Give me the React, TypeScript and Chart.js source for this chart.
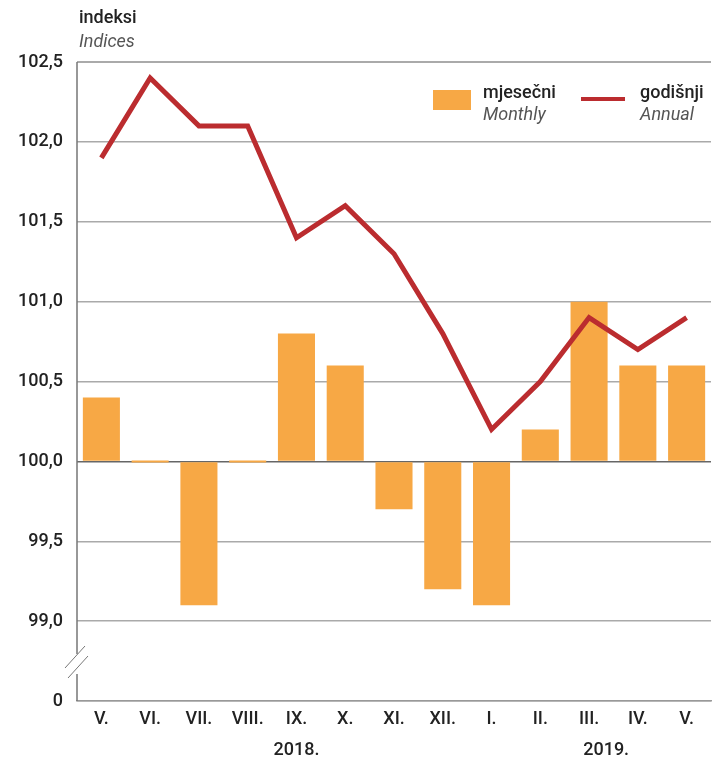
import React, { useEffect, useRef } from "react";
import { Chart, registerables } from "chart.js";
Chart.register(...registerables);

const categories = ["V.", "VI.", "VII.", "VIII.", "IX.", "X.", "XI.", "XII.", "I.", "II.", "III.", "IV.", "V."];
const monthly = [100.4, 100.0, 99.1, 100.0, 100.8, 100.6, 99.7, 99.2, 99.1, 100.2, 101.0, 100.6, 100.6];
const annual = [101.9, 102.4, 102.1, 102.1, 101.4, 101.6, 101.3, 100.8, 100.2, 100.5, 100.9, 100.7, 100.9];
const yTicks = [98.5, 99.0, 99.5, 100.0, 100.5, 101.0, 101.5, 102.0, 102.5];
const years = [{ label: "2018.", at: 4, offset: 0 }, { label: "2019.", at: 10, offset: 0.35 }];

const FONT = "Roboto, 'Liberation Sans', Arial, sans-serif";
const ORANGE = "#f7a845";
const RED = "#bb2c2f";

const overlay = {
  id: "overlay",
  afterDraw(chart: any) {
    const ctx = chart.ctx;
    const { left, top, bottom } = chart.chartArea;
    const x = chart.scales.x;
    const y = chart.scales.y;
    ctx.save();
    // left axis with break
    ctx.strokeStyle = "#777";
    ctx.lineWidth = 1.5;
    const breakTop = y.getPixelForValue(98.5) - 47;
    const breakBot = y.getPixelForValue(98.5) - 27;
    ctx.beginPath();
    ctx.moveTo(left, top);
    ctx.lineTo(left, breakTop);
    ctx.moveTo(left, breakBot);
    ctx.lineTo(left, bottom);
    ctx.stroke();
    ctx.lineWidth = 1;
    ctx.beginPath();
    ctx.moveTo(left - 12, breakTop + 14);
    ctx.lineTo(left + 8, breakTop - 8);
    ctx.moveTo(left - 9, breakBot + 4);
    ctx.lineTo(left + 11, breakBot - 18);
    ctx.stroke();

    // title
    ctx.fillStyle = "#222";
    ctx.textAlign = "left";
    ctx.textBaseline = "middle";
    ctx.font = `500 18px ${FONT}`;
    ctx.fillText("indeksi", 79, 18);
    ctx.fillStyle = "#555";
    ctx.font = `italic 18px ${FONT}`;
    ctx.fillText("Indices", 79, 42);

    // legend
    ctx.fillStyle = ORANGE;
    ctx.fillRect(433, 90, 38, 20);
    ctx.fillStyle = "#222";
    ctx.font = `500 18px ${FONT}`;
    ctx.fillText("mjesečni", 483, 93);
    ctx.fillText("godišnji", 640, 93);
    ctx.fillStyle = "#555";
    ctx.font = `italic 18px ${FONT}`;
    ctx.fillText("Monthly", 483, 115);
    ctx.fillText("Annual", 640, 115);
    ctx.strokeStyle = RED;
    ctx.lineWidth = 4;
    ctx.beginPath();
    ctx.moveTo(581, 99);
    ctx.lineTo(625, 99);
    ctx.stroke();

    // years
    ctx.fillStyle = "#222";
    ctx.textAlign = "center";
    ctx.font = `500 18px ${FONT}`;
    const step = x.getPixelForValue(1) - x.getPixelForValue(0);
    years.forEach((yr) => {
      ctx.fillText(yr.label, x.getPixelForValue(yr.at) + yr.offset * step, 750);
    });
    ctx.restore();
  },
};

export default function App() {
  const ref = useRef<HTMLCanvasElement>(null);
  useEffect(() => {
    document.body.style.margin = "0";
    const chart = new Chart(ref.current!, {
      type: "bar",
      data: {
        labels: categories,
        datasets: [
          {
            type: "line",
            data: annual,
            borderColor: RED,
            borderWidth: 5,
            pointRadius: 0,
            tension: 0,
            order: 0,
          } as any,
          {
            type: "bar",
            data: monthly,
            base: 100,
            backgroundColor: ORANGE,
            barPercentage: 0.76,
            categoryPercentage: 1,
            minBarLength: 2,
            order: 1,
          } as any,
        ],
      },
      options: {
        animation: false,
        responsive: false,
        layout: { padding: { top: 62, right: 9, left: 0, bottom: 0 } },
        plugins: { legend: { display: false }, tooltip: { enabled: false } },
        scales: {
          x: {
            grid: { display: false, drawTicks: false },
            border: { display: true, color: "#999", width: 1.5 },
            ticks: { color: "#222", font: { family: FONT, size: 18, weight: "500" }, padding: 8, maxRotation: 0 },
            afterFit: (s: any) => { s.height = 61; },
          },
          y: {
            min: 98.5,
            max: 102.5,
            afterBuildTicks: (s: any) => { s.ticks = yTicks.map((v) => ({ value: v })); },
            grid: {
              drawTicks: false,
              color: (c: any) => (c.tick && c.tick.value === 100 ? "#666" : "#aaa"),
              lineWidth: (c: any) => (c.tick && c.tick.value === 102.5 ? 2 : 1.5),
            },
            border: { display: false },
            ticks: {
              color: "#222",
              font: { family: FONT, size: 18, weight: "500" },
              padding: 14,
              callback: (v: any) => (v === 98.5 ? "0" : Number(v).toFixed(1).replace(".", ",")),
            },
            afterFit: (s: any) => { s.width = 77; },
          },
        },
      },
      plugins: [overlay],
    });
    return () => chart.destroy();
  }, []);
  return <canvas ref={ref} width={720} height={762} style={{ display: "block" }} />;
}
